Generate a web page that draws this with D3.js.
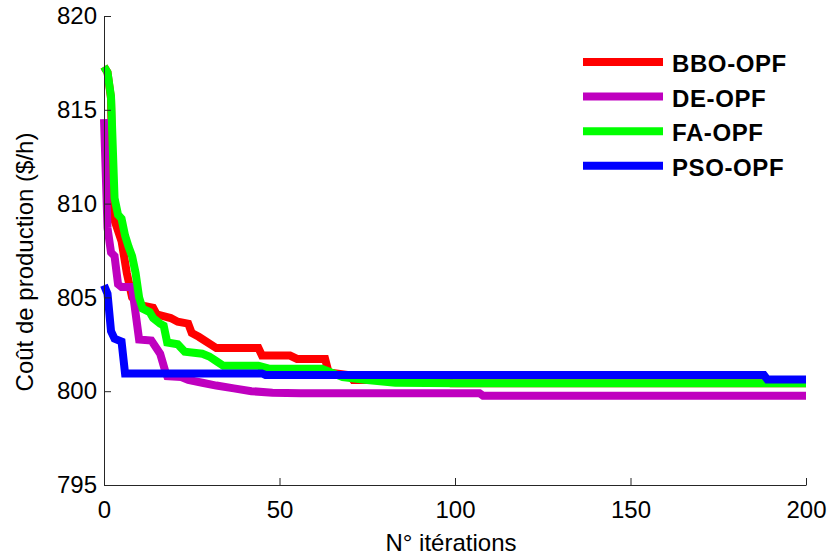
<!DOCTYPE html>
<html>
<head>
<meta charset="utf-8">
<script src="https://cdn.jsdelivr.net/npm/d3@7"></script>
<style>
  html, body { margin: 0; padding: 0; background: #fff; }
  svg { display: block; font-family: "Liberation Sans", Arial, sans-serif; }
</style>
</head>
<body>
<svg id="chart" width="829" height="558"></svg>
<script>
// Convergence of production cost per iteration (breakpoints of each curve)
const iterBBO = [0, 1, 2, 2.6, 3, 5, 6.5, 8, 10, 14, 15, 19, 21, 24, 25, 27, 32, 44, 45, 53, 55, 63, 64, 70, 71, 98, 99, 200];
const costBBO = [817.3, 817.0, 815.6, 809.4, 809.1, 808.0, 806.3, 805.0, 804.6, 804.45, 804.1, 803.9, 803.7, 803.6, 803.1, 802.9, 802.3, 802.3, 801.9, 801.9, 801.72, 801.72, 801.0, 800.85, 800.6, 800.6, 800.42, 800.42];

const iterDE = [0, 1, 2, 3, 4, 5, 8, 10, 13.5, 16, 17.4, 18, 22, 24, 28, 32, 37, 42, 48, 56, 107, 108, 200];
const costDE = [814.5, 808.7, 807.4, 807.2, 805.7, 805.55, 805.55, 802.75, 802.7, 802.0, 801.1, 800.8, 800.75, 800.6, 800.45, 800.3, 800.15, 800.0, 799.92, 799.89, 799.89, 799.76, 799.76];

const iterFA = [0, 1, 2, 3, 4, 5, 6, 7, 8, 9, 10, 11, 13, 14, 16, 17, 18, 21, 23, 28, 30, 32, 34, 44, 47, 62, 64, 68, 75, 83, 101, 200];
const costFA = [817.3, 817.0, 815.7, 810.3, 809.4, 809.2, 808.3, 807.7, 807.2, 806.3, 805.0, 804.4, 804.22, 803.9, 803.6, 803.5, 802.6, 802.5, 802.1, 802.0, 801.85, 801.6, 801.35, 801.35, 801.2, 801.2, 801.05, 800.75, 800.6, 800.45, 800.42, 800.42];

const iterPSO = [0, 1, 2, 3, 5, 6, 45, 46, 188, 189, 200];
const costPSO = [805.65, 805.2, 803.2, 802.8, 802.65, 800.95, 800.95, 800.87, 800.87, 800.62, 800.62];

const seriesNames = ["BBO-OPF", "DE-OPF", "FA-OPF", "PSO-OPF"];
const seriesColors = ["#ff0000", "#bf00bf", "#00ff00", "#0000ff"];
const seriesIters = [iterBBO, iterDE, iterFA, iterPSO];
const seriesCosts = [costBBO, costDE, costFA, costPSO];

const xTicks = [0, 50, 100, 150, 200];
const yTicks = [795, 800, 805, 810, 815, 820];
const xTitle = "N° itérations";
const yTitle = "Coût de production ($/h)";

const svg = d3.select("#chart");
const plotLeft = 104, plotRight = 806, plotTop = 16, plotBottom = 485;

const x = d3.scaleLinear().domain([0, 200]).range([plotLeft, plotRight]);
const y = d3.scaleLinear().domain([795, 820]).range([plotBottom, plotTop]);

// Series curves, drawn in legend order so PSO sits on top
const line = d3.line().x(d => x(d[0])).y(d => y(d[1]));
const plot = svg.append("g");
seriesNames.forEach((name, i) => {
  const pts = seriesIters[i].map((it, k) => [it, seriesCosts[i][k]]);
  plot.append("path")
    .datum(pts)
    .attr("d", line)
    .attr("fill", "none")
    .attr("stroke", seriesColors[i])
    .attr("stroke-width", 8)
    .attr("stroke-linejoin", "miter")
    .attr("stroke-linecap", "butt");
});

// Axes with inward ticks
const xAxis = d3.axisBottom(x).tickValues(xTicks).tickSizeInner(-7).tickSizeOuter(0).tickPadding(16);
const yAxis = d3.axisLeft(y).tickValues(yTicks).tickSizeInner(-7).tickSizeOuter(0).tickPadding(7);

const gx = svg.append("g").attr("transform", `translate(0,${plotBottom})`).call(xAxis);
const gy = svg.append("g").attr("transform", `translate(${plotLeft},0)`).call(yAxis);

[gx, gy].forEach(g => {
  g.select(".domain").attr("stroke", "#262626").attr("stroke-width", 1);
  g.selectAll(".tick line").attr("stroke", "#262626").attr("stroke-width", 1);
  g.selectAll(".tick text")
    .attr("fill", "#000")
    .style("font-size", "24px")
    .style("font-family", "'Liberation Sans', Arial, sans-serif");
});

// Axis titles
svg.append("text")
  .attr("x", 451).attr("y", 551)
  .attr("text-anchor", "middle")
  .style("font-size", "24px")
  .text(xTitle);

svg.append("text")
  .attr("transform", "translate(33,262) rotate(-90)")
  .attr("text-anchor", "middle")
  .style("font-size", "24px")
  .text(yTitle);

// Legend
const legend = svg.append("g");
seriesNames.forEach((name, i) => {
  const ly = 62 + i * 34.6;
  legend.append("line")
    .attr("x1", 583).attr("x2", 663)
    .attr("y1", ly).attr("y2", ly)
    .attr("stroke", seriesColors[i])
    .attr("stroke-width", 8);
  legend.append("text")
    .attr("x", 672).attr("y", ly + 10)
    .style("font-size", "24px")
    .style("font-weight", "bold")
    .style("letter-spacing", "0.6px")
    .text(name);
});
</script>
</body>
</html>
